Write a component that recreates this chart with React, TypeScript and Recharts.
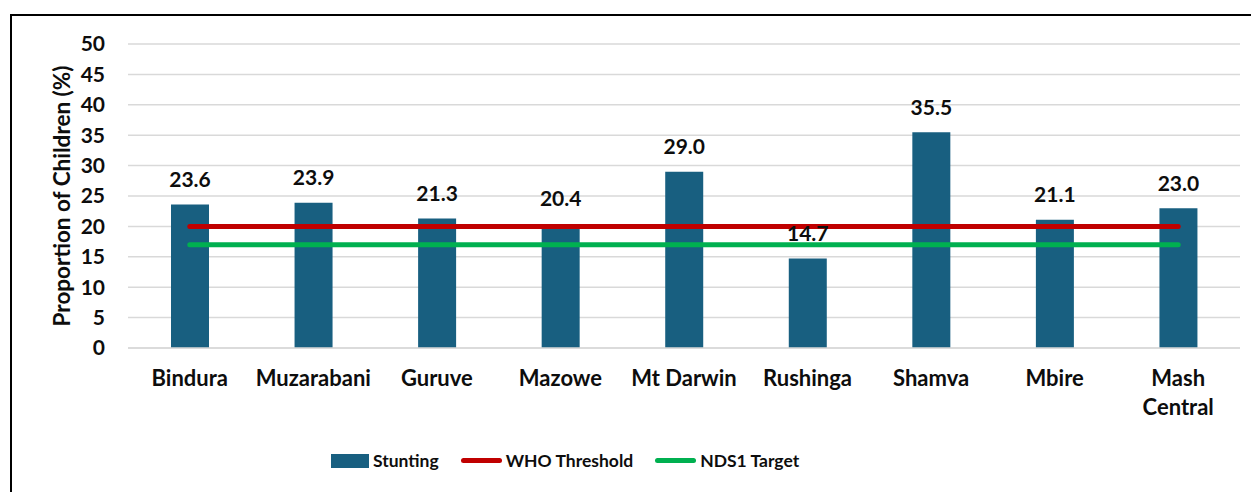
import { ComposedChart, Bar, Line, XAxis, YAxis, CartesianGrid, Legend } from 'recharts';

const categories = ['Bindura', 'Muzarabani', 'Guruve', 'Mazowe', 'Mt Darwin', 'Rushinga', 'Shamva', 'Mbire', 'Mash Central'];
const stunting = [23.6, 23.9, 21.3, 20.4, 29.0, 14.7, 35.5, 21.1, 23.0];
const whoThreshold = [20, 20, 20, 20, 20, 20, 20, 20, 20];
const nds1Target = [17, 17, 17, 17, 17, 17, 17, 17, 17];
const yTicks = [0, 5, 10, 15, 20, 25, 30, 35, 40, 45, 50];
const legendOrder = ['Stunting', 'WHO Threshold', 'NDS1 Target'];

const BAR_COLOR = '#185F80';
const WHO_COLOR = '#C00000';
const NDS_COLOR = '#00B050';
const TEXT = '#0D0D0D';
const FONT = 'Lato, "Open Sans", sans-serif';

const data = categories.map((name, i) => ({
    name,
    stunting: stunting[i],
    who: whoThreshold[i],
    nds1: nds1Target[i],
}));

// long names go on two lines, like "Mash Central"
function CategoryTick({ x, y, payload }: any) {
    const text: string = payload.value;
    const lines = text.length > 10 ? text.split(' ') : [text];
    return (
        <text x={x} y={y} textAnchor="middle" fill={TEXT} fontSize={22} fontWeight={700} fontFamily={FONT}>
            {lines.map((line, i) => (
                <tspan key={i} x={x} dy={i === 0 ? 38 : 29}>
                    {line}
                </tspan>
            ))}
        </text>
    );
}

function ValueLabel({ x, y, width, value }: any) {
    return (
        <text
            x={x + width / 2}
            y={y - 26}
            textAnchor="middle"
            dominantBaseline="central"
            fill={TEXT}
            fontSize={21}
            fontWeight={700}
            fontFamily={FONT}
        >
            {Number(value).toFixed(1)}
        </text>
    );
}

function LegendContent({ payload }: any) {
    const items = [...(payload || [])].sort(
        (a: any, b: any) => legendOrder.indexOf(a.value) - legendOrder.indexOf(b.value)
    );
    return (
        <div style={{ display: 'flex', alignItems: 'center', fontFamily: FONT, fontWeight: 700, fontSize: 17.5, color: TEXT }}>
            {items.map((entry: any, i: number) => (
                <div key={i} style={{ display: 'flex', alignItems: 'center', marginRight: 22 }}>
                    {entry.type === 'rect' ? (
                        <span style={{ display: 'inline-block', width: 38, height: 14, background: entry.color }} />
                    ) : (
                        <span style={{ display: 'inline-block', width: 41, height: 5, borderRadius: 3, background: entry.color }} />
                    )}
                    <span style={{ marginLeft: 4 }}>{entry.value}</span>
                </div>
            ))}
        </div>
    );
}

export default function App() {
    return (
        <div style={{ position: 'relative', width: 1251, height: 484, overflow: 'hidden', background: '#fff', fontFamily: FONT }}>
            <ComposedChart
                width={1251}
                height={484}
                data={data}
                margin={{ top: 36, right: 19, left: 40, bottom: 60 }}
            >
                <CartesianGrid vertical={false} stroke="#D9D9D9" strokeWidth={1.5} />
                <XAxis
                    dataKey="name"
                    interval={0}
                    tickLine={false}
                    axisLine={{ stroke: '#D9D9D9', strokeWidth: 1.5 }}
                    tickSize={0}
                    tickMargin={0}
                    height={84}
                    tick={<CategoryTick />}
                />
                <YAxis
                    domain={[0, 50]}
                    ticks={yTicks}
                    interval={0}
                    width={80}
                    axisLine={false}
                    tickLine={false}
                    tickMargin={17}
                    tick={{ fill: TEXT, fontSize: 21, fontWeight: 700, fontFamily: FONT }}
                    label={{
                        value: 'Proportion of Children (%)',
                        angle: -90,
                        position: 'insideLeft',
                        offset: 14,
                        style: { textAnchor: 'middle', fill: TEXT, fontSize: 22.5, fontWeight: 700, fontFamily: FONT },
                    }}
                />
                <Legend
                    layout="horizontal"
                    verticalAlign="middle"
                    align="center"
                    wrapperStyle={{ left: 323, top: 442, width: 'auto' }}
                    content={<LegendContent />}
                />
                <Bar
                    dataKey="stunting"
                    name="Stunting"
                    fill={BAR_COLOR}
                    barSize={38}
                    legendType="rect"
                    isAnimationActive={false}
                    label={<ValueLabel />}
                />
                <Line
                    dataKey="who"
                    name="WHO Threshold"
                    stroke={WHO_COLOR}
                    strokeWidth={5}
                    strokeLinecap="round"
                    dot={false}
                    activeDot={false}
                    legendType="plainline"
                    isAnimationActive={false}
                />
                <Line
                    dataKey="nds1"
                    name="NDS1 Target"
                    stroke={NDS_COLOR}
                    strokeWidth={5}
                    strokeLinecap="round"
                    dot={false}
                    activeDot={false}
                    legendType="plainline"
                    isAnimationActive={false}
                />
            </ComposedChart>
            <div style={{ position: 'absolute', left: 2, top: 6, width: 1300, height: 600, border: '2px solid #000', pointerEvents: 'none' }} />
        </div>
    );
}
